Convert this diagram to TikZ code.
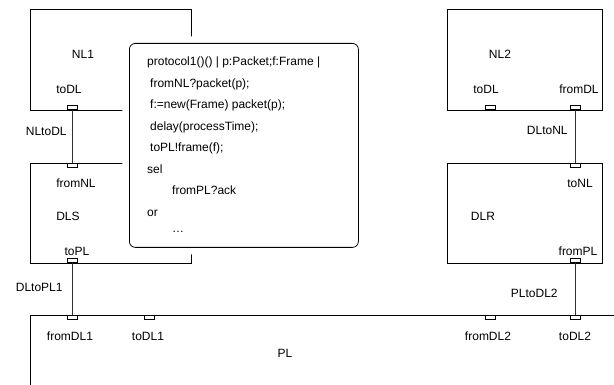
\documentclass[tikz,border=0pt]{standalone}
\usepackage{fontspec}
\setmainfont{Liberation Sans}
\usetikzlibrary{positioning, calc}
\tikzstyle{Link} = [
%connector between two ports:
line width=0.8pt, draw=black!80
]

\begin{document}
\begin{tikzpicture}[x=1pt, y=-1pt,
				block/.style = {rectangle, draw, line width=0.8pt, anchor=north west, inner sep=0pt},
				port/.style = {rectangle, draw, line width=0.6pt, fill=white, minimum width=10pt, minimum height=4pt, inner sep=0pt},
				lbl/.style = {font=\fontsize{12}{14}\selectfont, inner sep=1pt},
				codebox/.style = {rectangle, rounded corners=6pt, draw, line width=0.8pt, fill=white, anchor=north west, inner sep=0pt, preaction={draw=white, line width=14pt}},
			]
			\clip (0,0) rectangle (614,385);
			% processes
			\node[block, minimum width=161pt, minimum height=101pt](NL1) at (30,9){};
			\node[block, minimum width=161pt, minimum height=100pt](DLS) at (30,163){};
			\node[block, minimum width=155pt, minimum height=101pt](NL2) at (447,9){};
			\node[block, minimum width=155pt, minimum height=100pt](DLR) at (447,163){};
			\node[block, minimum width=640pt, minimum height=120pt](PL) at (30,315){};

			% ports
			\node[port, anchor=south](NL1toDL) at (72,110){};
			\node[port, anchor=north](DLSfromNL) at (72,163){};
			\node[port, anchor=south](DLStoPL) at (72,263){};
			\node[port, anchor=south](NL2toDL) at (490,110){};
			\node[port, anchor=south](NL2fromDL) at (575,110){};
			\node[port, anchor=north](DLRtoNL) at (575,163){};
			\node[port, anchor=south](DLRfromPL) at (575,263){};
			\node[port, anchor=north](PLfromDL1) at (72,315){};
			\node[port, anchor=north](PLtoDL1) at (149,315){};
			\node[port, anchor=north](PLfromDL2) at (490,315){};
			\node[port, anchor=north](PLtoDL2) at (575,315){};

			% names
			\node[lbl](NL1name) at (83,54){NL1};
			\node[lbl](DLSname) at (68,216){DLS};
			\node[lbl](NL2name) at (500,54){NL2};
			\node[lbl](DLRname) at (483,216){DLR};
			\node[lbl](PLname) at (285,353){PL};

			\node[lbl](NL1toDLname) at (69,89){toDL};
			\node[lbl](DLSfromNLname) at (76,183){fromNL};
			\node[lbl](DLStoPLname) at (77,251){toPL};
			\node[lbl](NL2toDLname) at (486,89){toDL};
			\node[lbl](NL2fromDLname) at (579,89){fromDL};
			\node[lbl](DLRtoNLname) at (580,183){toNL};
			\node[lbl](DLRfromPLname) at (578,251){fromPL};
			\node[lbl](PLfromDL1name) at (70,336){fromDL1};
			\node[lbl](PLtoDL1name) at (148,336){toDL1};
			\node[lbl](PLfromDL2name) at (488,336){fromDL2};
			\node[lbl](PLtoDL2name) at (575,336){toDL2};

			% channels
			\draw[Link](NL1toDL.south)--node[lbl, midway, left=4pt, yshift=5pt] {NLtoDL}(DLSfromNL.north);
			\draw[Link](NL2fromDL.south)--node[lbl, midway, left=6pt, yshift=6pt] {DLtoNL}(DLRtoNL.north);
			\draw[Link](DLStoPL.south)--node[lbl, midway, left=8pt, yshift=2pt] {DLtoPL1}(PLfromDL1.north);
			\draw[Link](DLRfromPL.south)--node[lbl, midway, left=16pt, yshift=-4pt] {PLtoDL2}(PLtoDL2.north);

			% behaviour of DLS
			\node[codebox, minimum width=229pt, minimum height=204pt](code) at (129,43){};
			\node[anchor=north west, align=left, inner sep=0pt, font=\fontsize{12}{21.5}\selectfont](codetext) at (147,57){protocol1()() | p:Packet;f:Frame |\\
				\hspace*{3pt}fromNL?packet(p);\\
				\hspace*{3pt}f:=new(Frame) packet(p);\\
				\hspace*{3pt}delay(processTime);\\
				\hspace*{3pt}toPL!frame(f);\\
				sel\\
				\hspace*{25pt}fromPL?ack\\
				or\\[-5pt]
				\hspace*{25pt}\dots};

		\end{tikzpicture}
\end{document}
